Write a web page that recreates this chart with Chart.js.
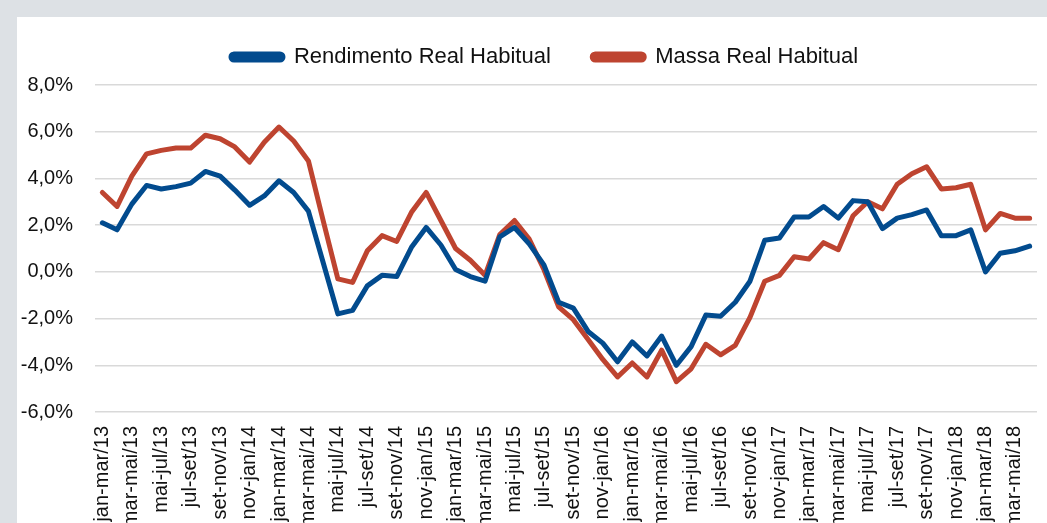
<!DOCTYPE html>
<html>
<head>
<meta charset="utf-8">
<script src="https://cdn.jsdelivr.net/npm/chart.js@4"></script>
<style>
  html, body { margin: 0; padding: 0; }
  body { width: 1047px; height: 523px; background: #dde1e5; overflow: hidden; position: relative; }
  #painel { position: absolute; left: 17px; top: 17px; width: 1030px; height: 506px; background: #fff; }
</style>
</head>
<body>
<div id="painel"><canvas id="myChart" width="1030" height="506"></canvas></div>
<script>
// trimestres moveis
const trimestres = [
  'jan-mar/13','fev-abr/13','mar-mai/13','abr-jun/13','mai-jul/13','jun-ago/13','jul-set/13','ago-out/13','set-nov/13','out-dez/13','nov-jan/14','dez-fev/14',
  'jan-mar/14','fev-abr/14','mar-mai/14','abr-jun/14','mai-jul/14','jun-ago/14','jul-set/14','ago-out/14','set-nov/14','out-dez/14','nov-jan/15','dez-fev/15',
  'jan-mar/15','fev-abr/15','mar-mai/15','abr-jun/15','mai-jul/15','jun-ago/15','jul-set/15','ago-out/15','set-nov/15','out-dez/15','nov-jan/16','dez-fev/16',
  'jan-mar/16','fev-abr/16','mar-mai/16','abr-jun/16','mai-jul/16','jun-ago/16','jul-set/16','ago-out/16','set-nov/16','out-dez/16','nov-jan/17','dez-fev/17',
  'jan-mar/17','fev-abr/17','mar-mai/17','abr-jun/17','mai-jul/17','jun-ago/17','jul-set/17','ago-out/17','set-nov/17','out-dez/17','nov-jan/18','dez-fev/18',
  'jan-mar/18','fev-abr/18','mar-mai/18','abr-jun/18'
];

// variacao % em 12 meses
const rendimento = [
  2.1, 1.8, 2.9, 3.7, 3.55, 3.65, 3.8, 4.3, 4.1, 3.5, 2.85, 3.25,
  3.9, 3.4, 2.6, 0.4, -1.8, -1.65, -0.6, -0.15, -0.2, 1.05, 1.9, 1.15,
  0.1, -0.2, -0.4, 1.5, 1.9, 1.2, 0.3, -1.3, -1.55, -2.55, -3.05, -3.85,
  -3.0, -3.6, -2.75, -4.0, -3.2, -1.85, -1.9, -1.3, -0.4, 1.35, 1.45, 2.35,
  2.35, 2.8, 2.3, 3.05, 3.0, 1.85, 2.3, 2.45, 2.65, 1.55, 1.55, 1.8,
  0.0, 0.8, 0.9, 1.1
];
const massa = [
  3.4, 2.8, 4.1, 5.05, 5.2, 5.3, 5.3, 5.85, 5.7, 5.35, 4.7, 5.55,
  6.2, 5.6, 4.75, 2.2, -0.3, -0.45, 0.9, 1.55, 1.3, 2.55, 3.4, 2.2,
  1.0, 0.5, -0.15, 1.6, 2.2, 1.4, 0.1, -1.5, -2.05, -2.9, -3.75, -4.5,
  -3.9, -4.5, -3.35, -4.7, -4.15, -3.1, -3.55, -3.15, -1.95, -0.4, -0.15, 0.65,
  0.55, 1.25, 0.95, 2.4, 3.0, 2.7, 3.75, 4.2, 4.5, 3.55, 3.6, 3.75,
  1.8, 2.5, 2.3, 2.3
];

const yTicks = [-6, -4, -2, 0, 2, 4, 6, 8];

const azul = '#024b8e';
const vermelho = '#be4430';
const fonte = "'Liberation Sans', Arial, sans-serif";

const chartDOM = document.getElementById('myChart');

const data = {
  labels: trimestres,
  datasets: [
    {
      label: 'Rendimento Real Habitual',
      data: rendimento,
      borderColor: azul,
      backgroundColor: azul,
      borderWidth: 5,
      pointRadius: 0,
      tension: 0,
      borderJoinStyle: 'round',
      borderCapStyle: 'round'
    },
    {
      label: 'Massa Real Habitual',
      data: massa,
      borderColor: vermelho,
      backgroundColor: vermelho,
      borderWidth: 5,
      pointRadius: 0,
      tension: 0,
      borderJoinStyle: 'round',
      borderCapStyle: 'round'
    }
  ]
};

const config = {
  type: 'line',
  data,
  options: {
    responsive: false,
    animation: false,
    layout: { padding: { top: 12, right: 10, left: 0, bottom: 0 } },
    plugins: {
      tooltip: { enabled: false },
      legend: {
        position: 'top',
        fullSize: false,
        labels: {
          boxWidth: 52,
          boxHeight: 6,
          useBorderRadius: true,
          borderRadius: 3,
          padding: 17,
          color: '#111',
          font: { family: fonte, size: 22 },
          generateLabels: (chart) => {
            const itens = Chart.defaults.plugins.legend.labels.generateLabels(chart);
            // espaco entre os itens e ajuste do centro
            itens[0].text = itens[0].text + '    ';
            itens[1].text = itens[1].text + '       ';
            return itens;
          }
        }
      }
    },
    scales: {
      x: {
        offset: true,
        grid: { display: false, drawTicks: false },
        border: { display: false },
        ticks: {
          autoSkip: false,
          minRotation: 90,
          maxRotation: 90,
          padding: 14,
          color: '#111',
          font: { family: fonte, size: 20 },
          callback: function (val, i) {
            return i % 2 === 0 ? this.getLabelForValue(val) : '';
          }
        },
        afterFit: (scale) => {
          scale.height = 111;
          scale.paddingLeft = 0;
          scale.paddingRight = 0;
        }
      },
      y: {
        min: -6,
        max: 8.3,
        grid: { color: '#d9d9d9', lineWidth: 1.5, drawTicks: false },
        border: { display: false },
        afterBuildTicks: (scale) => { scale.ticks = yTicks.map(v => ({ value: v })); },
        ticks: {
          padding: 22,
          color: '#111',
          font: { family: fonte, size: 20 },
          callback: (v) => v.toFixed(1).replace('.', ',') + '%'
        },
        afterFit: (scale) => { scale.width = 78; }
      }
    }
  }
};

const myChart = new Chart(chartDOM, config);
</script>
</body>
</html>
